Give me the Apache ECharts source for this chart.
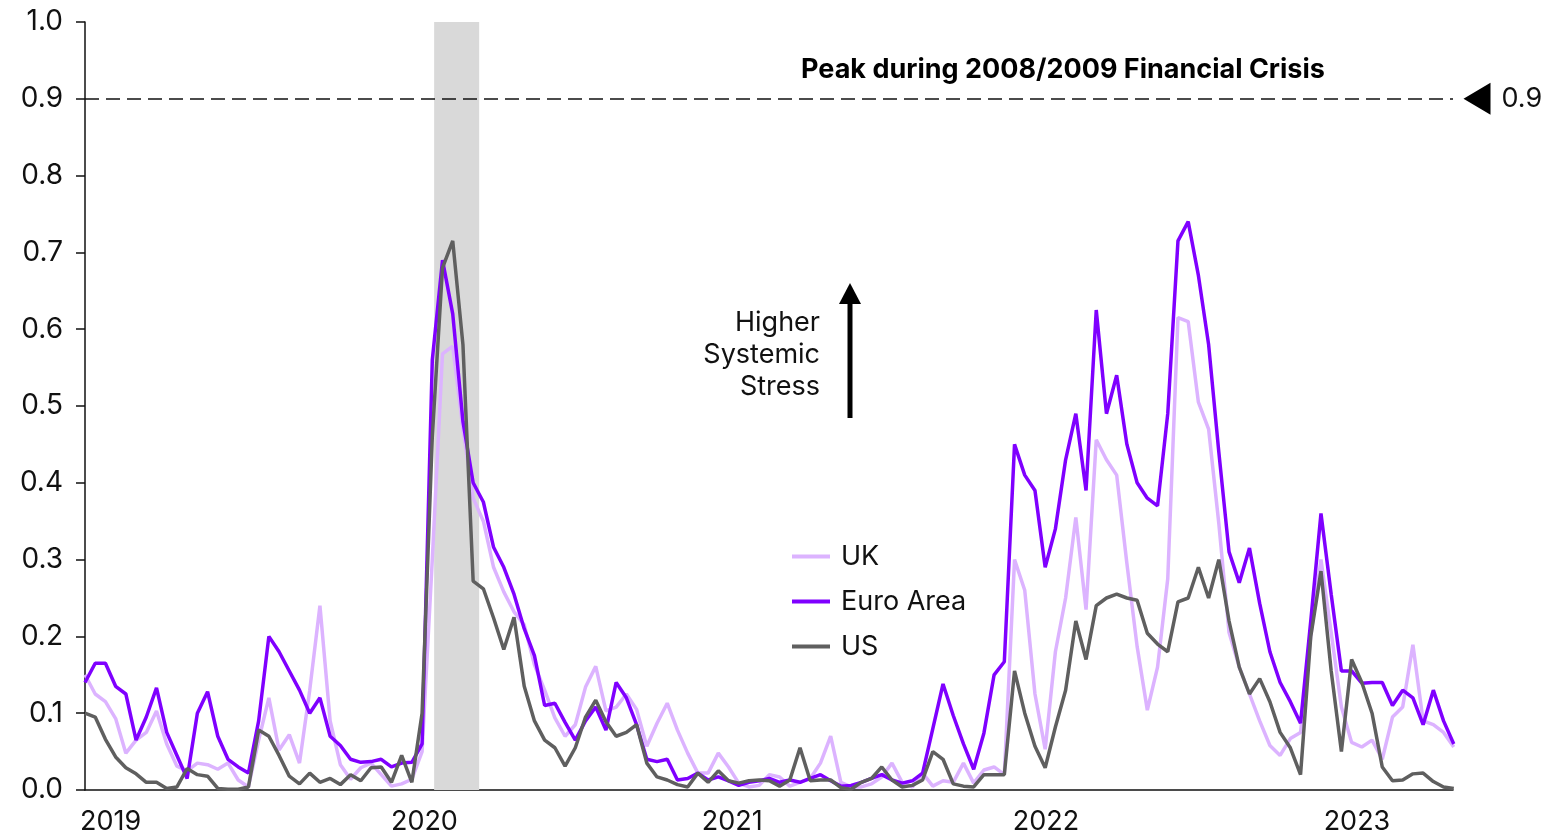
<!DOCTYPE html>
<html><head><meta charset="utf-8">
<script src="https://cdn.jsdelivr.net/npm/echarts@6/dist/echarts.min.js"></script>
<style>html,body{margin:0;padding:0;background:#fff}#c{width:1545px;height:834px}</style>
</head><body><div id="c"></div>
<script>
// ---- data ----
const startYear = 2019;          // first observation: 1 Jan 2019
const stepDays = 12;             // spacing of sampled observations
const xMaxYear = 2023.40;
const yearTicks = [2019, 2020, 2021, 2022, 2023];
const yTickLabels = ['0.0','0.1','0.2','0.3','0.4','0.5','0.6','0.7','0.8','0.9','1.0'];
const crisisPeak = 0.9;
const covidBand = ['2020-02-15', '2020-04-08'];
const seriesNames = ['UK', 'Euro Area', 'US'];

const ukValues = [0.15,0.125,0.115,0.093,0.048,0.065,0.075,0.103,0.06,0.031,
0.025,0.035,0.033,0.027,0.035,0.013,0.004,0.065,0.12,0.052,
0.072,0.035,0.13,0.24,0.09,0.033,0.014,0.029,0.035,0.02,
0.005,0.008,0.014,0.05,0.3,0.568,0.578,0.47,0.38,0.35,
0.29,0.258,0.232,0.215,0.163,0.13,0.094,0.07,0.085,0.134,
0.161,0.103,0.108,0.125,0.105,0.057,0.087,0.113,0.078,0.048,
0.022,0.022,0.048,0.03,0.009,0.004,0.006,0.02,0.017,0.005,
0.01,0.015,0.035,0.07,0.01,0.004,0.004,0.008,0.017,0.035,
0.01,0.004,0.022,0.005,0.012,0.01,0.035,0.009,0.026,0.03,
0.02,0.3,0.26,0.125,0.053,0.18,0.25,0.355,0.235,0.456,
0.43,0.41,0.295,0.187,0.104,0.16,0.275,0.615,0.61,0.505,
0.47,0.347,0.205,0.16,0.125,0.09,0.058,0.045,0.067,0.075,
0.2,0.3,0.205,0.108,0.062,0.056,0.065,0.04,0.095,0.108,
0.189,0.09,0.085,0.075,0.056];

const euroValues = [0.14,0.165,0.165,0.135,0.125,0.065,0.095,0.133,0.075,0.045,
0.015,0.1,0.128,0.07,0.04,0.03,0.022,0.09,0.2,0.18,
0.155,0.13,0.1,0.12,0.07,0.058,0.04,0.036,0.037,0.04,
0.03,0.035,0.036,0.06,0.56,0.69,0.62,0.48,0.40,0.375,
0.316,0.29,0.255,0.21,0.175,0.11,0.113,0.088,0.065,0.09,
0.108,0.078,0.14,0.12,0.085,0.04,0.037,0.04,0.013,0.015,
0.022,0.013,0.017,0.012,0.006,0.01,0.012,0.015,0.01,0.013,
0.01,0.015,0.02,0.012,0.005,0.006,0.01,0.015,0.02,0.013,
0.009,0.012,0.022,0.08,0.138,0.097,0.06,0.027,0.074,0.15,
0.167,0.45,0.41,0.39,0.29,0.34,0.43,0.49,0.39,0.625,
0.49,0.54,0.45,0.40,0.38,0.37,0.49,0.715,0.74,0.67,
0.58,0.44,0.31,0.27,0.315,0.243,0.18,0.14,0.115,0.087,
0.22,0.36,0.255,0.155,0.155,0.139,0.14,0.14,0.11,0.13,
0.12,0.085,0.13,0.09,0.06];

const usValues = [0.1,0.095,0.066,0.043,0.029,0.021,0.01,0.01,0.002,0.004,
0.028,0.02,0.018,0.002,0.001,0.001,0.004,0.078,0.07,0.045,
0.018,0.008,0.022,0.01,0.015,0.007,0.02,0.012,0.029,0.03,
0.01,0.045,0.01,0.1,0.46,0.68,0.715,0.58,0.272,0.262,
0.224,0.183,0.225,0.135,0.09,0.065,0.055,0.031,0.055,0.095,
0.117,0.089,0.07,0.075,0.085,0.035,0.017,0.013,0.007,0.004,
0.022,0.01,0.025,0.012,0.009,0.012,0.013,0.012,0.005,0.013,
0.055,0.012,0.013,0.013,0.003,0.001,0.01,0.015,0.03,0.013,
0.004,0.006,0.013,0.05,0.04,0.008,0.005,0.004,0.02,0.02,
0.02,0.155,0.1,0.057,0.029,0.082,0.13,0.22,0.17,0.24,
0.25,0.255,0.25,0.247,0.204,0.19,0.18,0.245,0.25,0.29,
0.25,0.3,0.22,0.16,0.125,0.145,0.115,0.075,0.055,0.02,
0.2,0.285,0.155,0.05,0.17,0.14,0.1,0.03,0.012,0.013,
0.021,0.022,0.011,0.004,0.002];

// ---- helpers ----
function dateToYear(s) {
  const d = new Date(s + 'T00:00:00Z');
  const y = d.getUTCFullYear();
  const a = Date.UTC(y, 0, 1), b = Date.UTC(y + 1, 0, 1);
  return y + (d - a) / (b - a);
}
const xs = ukValues.map((_, i) => startYear + i * stepDays / 365.25);
const pairs = vals => vals.map((v, i) => [xs[i], v]);

const FONT = 'Inter, "Noto Sans", sans-serif';
const colors = { 'UK': '#dcb3ff', 'Euro Area': '#7f00ff', 'US': '#5f5f5f' };

const chart = echarts.init(document.getElementById('c'), null, { renderer: 'canvas' });
chart.setOption({
  animation: false,
  backgroundColor: '#fff',
  textStyle: { fontFamily: FONT, color: '#111' },
  grid: { left: 85, right: 92, top: 22, bottom: 44, containLabel: false, outerBoundsMode: 'none' },
  legend: {
    data: seriesNames,
    orient: 'vertical',
    left: 787, top: 538,
    icon: 'rect', itemWidth: 38, itemHeight: 4, itemGap: 18,
    textStyle: { fontFamily: FONT, fontSize: 27, color: '#111', padding: [0, 0, 0, 6] }
  },
  xAxis: {
    type: 'value', min: startYear, max: xMaxYear, interval: 1,
    axisLine: { show: true, lineStyle: { color: '#111', width: 1.5 } },
    axisTick: { show: false },
    splitLine: { show: false },
    axisLabel: {
      fontFamily: FONT, fontSize: 27, color: '#111', align: 'left', margin: 18,
      padding: [0, 0, 0, -5],
      showMaxLabel: false,
      formatter: v => yearTicks.indexOf(Math.round(v * 1000) / 1000) >= 0 ? String(Math.round(v)) : ''
    }
  },
  yAxis: {
    type: 'value', min: 0, max: 1, interval: 0.1,
    axisLine: { show: true, lineStyle: { color: '#111', width: 1.5 } },
    axisTick: { show: true, length: 9, lineStyle: { color: '#111', width: 1.5 } },
    splitLine: { show: false },
    axisLabel: {
      fontFamily: FONT, fontSize: 28, color: '#111', margin: 22,
      formatter: v => yTickLabels[Math.round(v * 10)]
    }
  },
  series: [
    {
      name: 'UK', type: 'line', data: pairs(ukValues), showSymbol: false, z: 3,
      lineStyle: { color: colors['UK'], width: 3.5 }, itemStyle: { color: colors['UK'] },
      markArea: {
        silent: true, itemStyle: { color: '#d9d9d9' },
        data: [[{ xAxis: dateToYear(covidBand[0]) }, { xAxis: dateToYear(covidBand[1]) }]]
      }
    },
    {
      name: 'Euro Area', type: 'line', data: pairs(euroValues), showSymbol: false, z: 4,
      lineStyle: { color: colors['Euro Area'], width: 3.5 }, itemStyle: { color: colors['Euro Area'] }
    },
    {
      name: 'US', type: 'line', data: pairs(usValues), showSymbol: false, z: 5,
      lineStyle: { color: colors['US'], width: 3.5 }, itemStyle: { color: colors['US'] },
      markLine: {
        silent: true, symbol: 'none',
        lineStyle: { color: '#111', width: 1.5, type: [14, 7] },
        label: { show: false },
        data: [{ yAxis: crisisPeak }]
      },
      markPoint: {
        silent: true,
        data: [
          { coord: [xMaxYear, crisisPeak], symbol: 'triangle', symbolSize: [32, 27], symbolRotate: 90,
            symbolOffset: [24, 0], itemStyle: { color: '#000' }, label: { show: false } },
          { coord: [xMaxYear, crisisPeak], symbol: 'rect', symbolSize: 1, itemStyle: { color: 'rgba(0,0,0,0)' },
            label: { show: true, position: 'right', distance: 48, formatter: String(crisisPeak),
              fontFamily: FONT, fontSize: 27, color: '#111' } }
        ]
      }
    }
  ],
  graphic: [
    { type: 'text', style: { x: 1063, y: 56, text: 'Peak during 2008/2009 Financial Crisis',
        font: 'bold 27px ' + FONT, fill: '#000', align: 'center', verticalAlign: 'top' } },
    { type: 'text', style: { x: 820, y: 307, text: 'Higher\nSystemic\nStress',
        font: '27px ' + FONT, fill: '#111', align: 'right', verticalAlign: 'top', lineHeight: 32 } },
    { type: 'rect', shape: { x: 847.5, y: 302, width: 5, height: 116 }, style: { fill: '#000' } },
    { type: 'polygon', shape: { points: [[850, 283], [861, 304], [839, 304]] }, style: { fill: '#000' } }
  ]
});
</script></body></html>
